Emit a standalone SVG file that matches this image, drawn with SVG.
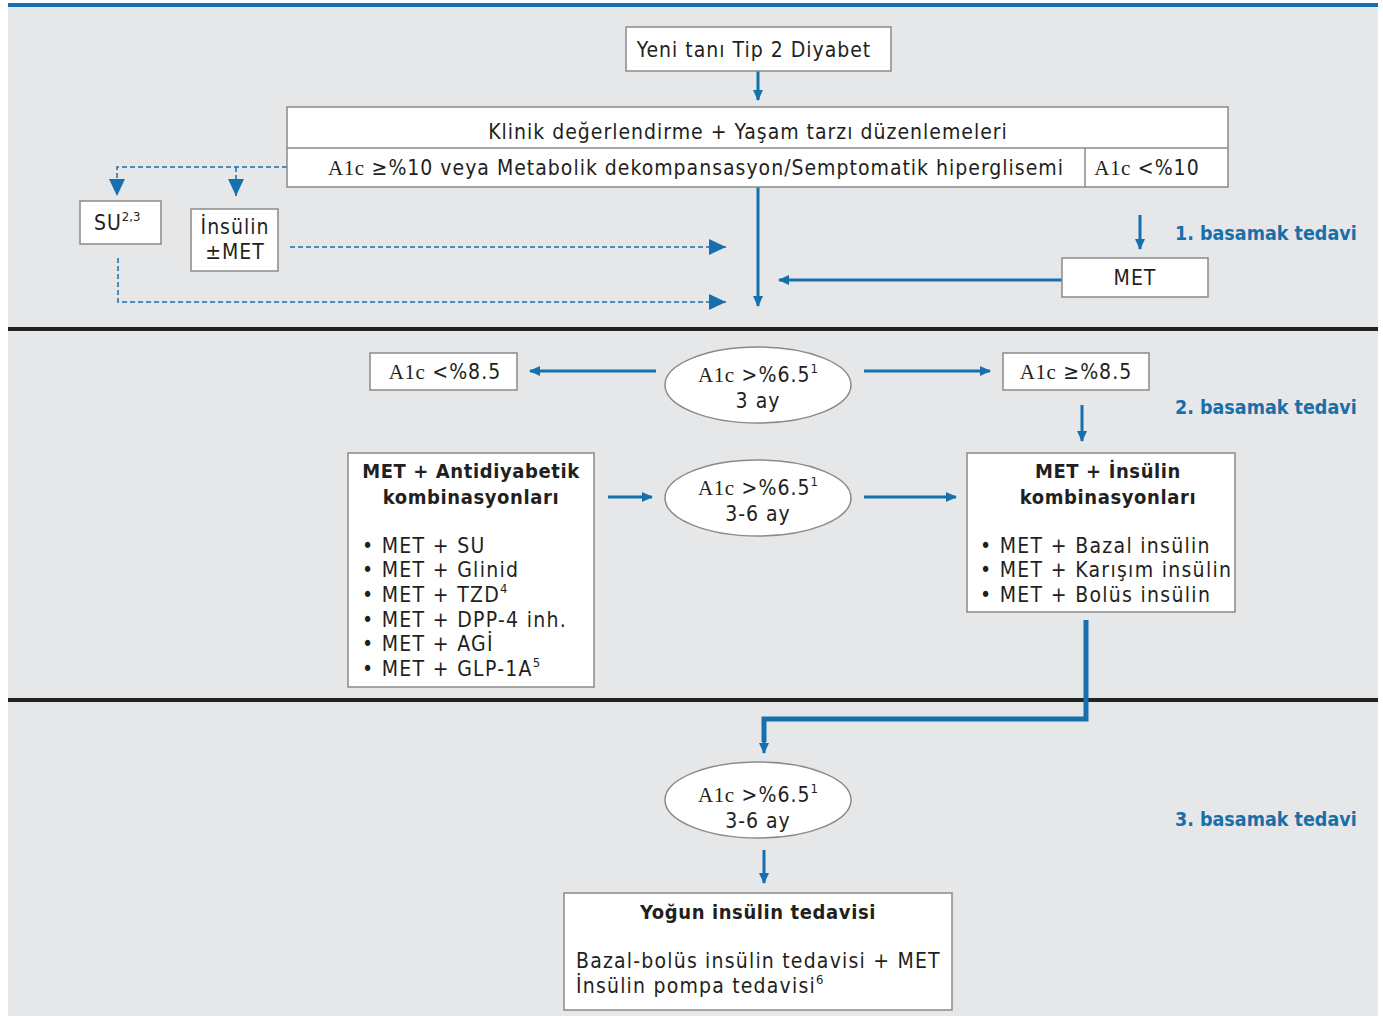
<svg xmlns="http://www.w3.org/2000/svg" width="1383" height="1016" viewBox="0 0 1383 1016">
<defs>
<style>
.box{fill:#fff;stroke:#8a8a8a;stroke-width:1.5}
.ell{fill:#fff;stroke:#8a8a8a;stroke-width:1.5}
.t{font-family:"DejaVu Sans Condensed","DejaVu Sans",sans-serif;font-size:21px;letter-spacing:1px;fill:#231f20}
.li{letter-spacing:1.3px}
.tb{font-family:"DejaVu Sans Condensed","DejaVu Sans",sans-serif;font-size:20px;font-weight:bold;letter-spacing:0.6px;fill:#231f20}
.s{font-family:"Liberation Serif",serif;letter-spacing:0.5px}
.sup{font-size:13px;letter-spacing:0}
.lab{font-family:"DejaVu Sans Condensed","DejaVu Sans",sans-serif;font-size:19.5px;font-weight:bold;fill:#1a6fa9}
.c{stroke:#1670ad;stroke-width:3;fill:none}
.ct{stroke:#1670ad;stroke-width:5;fill:none}
.d{stroke:#1670ad;stroke-width:1.5;fill:none;stroke-dasharray:5 3}
</style>
<marker id="a" markerUnits="userSpaceOnUse" markerWidth="12" markerHeight="10" refX="10" refY="5" orient="auto"><path d="M0,0 L11,5 L0,10 Z" fill="#1670ad"/></marker>
<marker id="ad" markerUnits="userSpaceOnUse" markerWidth="18" markerHeight="16" refX="17" refY="8" orient="auto"><path d="M0,0 L17,8 L0,16 Z" fill="#1670ad"/></marker>
</defs>
<rect x="0" y="0" width="1383" height="1016" fill="#fff"/>
<rect x="8" y="6" width="1370" height="1010" fill="#e6e7e9"/>
<rect x="8" y="3" width="1370" height="4" fill="#1670ad"/>
<rect x="8" y="327" width="1370" height="4" fill="#222"/>
<rect x="8" y="698" width="1370" height="4" fill="#222"/>

<g id="connectors">
<line class="c" x1="758" y1="71" x2="758" y2="100" marker-end="url(#a)"/>
<line class="c" x1="758" y1="187" x2="758" y2="306" marker-end="url(#a)"/>
<polyline class="d" points="287,167 117,167 117,196" marker-end="url(#ad)"/>
<line class="d" x1="236" y1="167" x2="236" y2="196" marker-end="url(#ad)"/>
<line class="d" x1="290" y1="247" x2="726" y2="247" marker-end="url(#ad)"/>
<polyline class="d" points="118,258 118,302 726,302" marker-end="url(#ad)"/>
<line class="c" x1="1140" y1="215" x2="1140" y2="249" marker-end="url(#a)"/>
<line class="c" x1="1062" y1="280" x2="779" y2="280" marker-end="url(#a)"/>
<line class="c" x1="656" y1="371" x2="530" y2="371" marker-end="url(#a)"/>
<line class="c" x1="864" y1="371" x2="990" y2="371" marker-end="url(#a)"/>
<line class="c" x1="1082" y1="405" x2="1082" y2="441" marker-end="url(#a)"/>
<line class="c" x1="608" y1="497" x2="652" y2="497" marker-end="url(#a)"/>
<line class="c" x1="864" y1="497" x2="956" y2="497" marker-end="url(#a)"/>
<polyline class="ct" points="1086,620 1086,719 764,719 764,742"/>
<line class="c" x1="764" y1="740" x2="764" y2="753" marker-end="url(#a)"/>
<line class="c" x1="764" y1="850" x2="764" y2="883" marker-end="url(#a)"/>
</g>

<g id="yeni"><rect class="box" x="626" y="27" width="265" height="44"/><text class="t" x="754" y="57" text-anchor="middle">Yeni tanı Tip 2 Diyabet</text></g>
<g id="klinik">
<rect class="box" x="287" y="107" width="941" height="80"/>
<line x1="287" y1="148" x2="1228" y2="148" stroke="#8a8a8a" stroke-width="1.5"/>
<line x1="1085" y1="148" x2="1085" y2="187" stroke="#8a8a8a" stroke-width="1.5"/>
<text class="t" x="748" y="139" text-anchor="middle">Klinik değerlendirme + Yaşam tarzı düzenlemeleri</text>
<text class="t" x="696" y="175" text-anchor="middle"><tspan class="s">A1c</tspan> ≥%10 veya Metabolik dekompansasyon/Semptomatik hiperglisemi</text>
<text class="t" x="1147" y="175" text-anchor="middle"><tspan class="s">A1c</tspan> &lt;%10</text>
</g>
<g id="su"><rect class="box" x="80" y="201" width="81" height="43"/><text class="t" x="94" y="230">SU<tspan class="sup" dy="-9">2,3</tspan></text></g>
<g id="insulin"><rect class="box" x="191" y="209" width="87" height="62"/><text class="t" x="235" y="234" text-anchor="middle">İnsülin</text><text class="t" x="235" y="259" text-anchor="middle">±MET</text></g>
<g id="met"><rect class="box" x="1062" y="258" width="146" height="39"/><text class="t" x="1135" y="285" text-anchor="middle">MET</text></g>
<text class="lab" x="1175" y="240">1. basamak tedavi</text>

<g id="e1"><ellipse class="ell" cx="758" cy="385" rx="93" ry="38"/><text class="t" x="758" y="382" text-anchor="middle"><tspan class="s">A1c</tspan> &gt;%6.5<tspan class="sup" dy="-9">1</tspan></text><text class="t" x="758" y="408" text-anchor="middle">3 ay</text></g>
<g id="lt85"><rect class="box" x="370" y="353" width="147" height="37"/><text class="t" x="445" y="379" text-anchor="middle"><tspan class="s">A1c</tspan> &lt;%8.5</text></g>
<g id="ge85"><rect class="box" x="1003" y="353" width="146" height="37"/><text class="t" x="1076" y="379" text-anchor="middle"><tspan class="s">A1c</tspan> ≥%8.5</text></g>
<text class="lab" x="1175" y="414">2. basamak tedavi</text>

<g id="antidiyabetik">
<rect class="box" x="348" y="453" width="246" height="234"/>
<text class="tb" x="471" y="478" text-anchor="middle">MET + Antidiyabetik</text>
<text class="tb" x="471" y="504" text-anchor="middle">kombinasyonları</text>
<text class="t li" x="362" y="553">• MET + SU</text>
<text class="t li" x="362" y="577">• MET + Glinid</text>
<text class="t li" x="362" y="602">• MET + TZD<tspan class="sup" dy="-9">4</tspan></text>
<text class="t li" x="362" y="627">• MET + DPP-4 inh.</text>
<text class="t li" x="362" y="651">• MET + AGİ</text>
<text class="t li" x="362" y="676">• MET + GLP-1A<tspan class="sup" dy="-9">5</tspan></text>
</g>
<g id="e2"><ellipse class="ell" cx="758" cy="498" rx="93" ry="38"/><text class="t" x="758" y="495" text-anchor="middle"><tspan class="s">A1c</tspan> &gt;%6.5<tspan class="sup" dy="-9">1</tspan></text><text class="t" x="758" y="521" text-anchor="middle">3-6 ay</text></g>
<g id="metinsulin">
<rect class="box" x="967" y="453" width="268" height="159"/>
<text class="tb" x="1108" y="478" text-anchor="middle">MET + İnsülin</text>
<text class="tb" x="1108" y="504" text-anchor="middle">kombinasyonları</text>
<text class="t li" x="980" y="553">• MET + Bazal insülin</text>
<text class="t li" x="980" y="577">• MET + Karışım insülin</text>
<text class="t li" x="980" y="602">• MET + Bolüs insülin</text>
</g>

<g id="e3"><ellipse class="ell" cx="758" cy="800" rx="93" ry="38"/><text class="t" x="758" y="802" text-anchor="middle"><tspan class="s">A1c</tspan> &gt;%6.5<tspan class="sup" dy="-9">1</tspan></text><text class="t" x="758" y="828" text-anchor="middle">3-6 ay</text></g>
<text class="lab" x="1175" y="826">3. basamak tedavi</text>
<g id="yogun">
<rect class="box" x="564" y="893" width="388" height="117"/>
<text class="tb" x="758" y="919" text-anchor="middle">Yoğun insülin tedavisi</text>
<text class="t" x="576" y="968" style="letter-spacing:1.2px">Bazal-bolüs insülin tedavisi + MET</text>
<text class="t" x="576" y="993" style="letter-spacing:1.2px">İnsülin pompa tedavisi<tspan class="sup" dy="-9">6</tspan></text>
</g>
</svg>
